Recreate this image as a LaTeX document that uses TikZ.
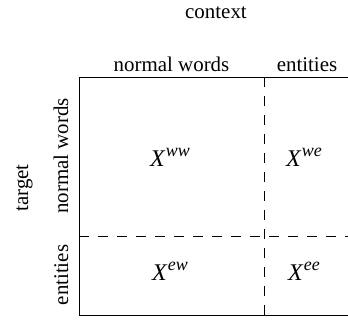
\documentclass[tikz,border=0pt]{standalone}
\usepackage{fontspec}
\setmainfont{Liberation Serif}
\newfontfamily\timesfont{Liberation Serif}
\newcommand{\cellsup}[1]{\raisebox{0.4em}{\fontsize{18}{18}\selectfont\kern1bp#1}}
\usetikzlibrary{positioning}
\begin{document}
\begin{tikzpicture}[x=1bp,y=-1bp]
\tikzstyle{lbl} = [font=\timesfont\fontsize{21}{25}\selectfont, inner sep=0pt, anchor=base]
\tikzstyle{cell} = [font=\timesfont\itshape\fontsize{24}{28}\selectfont, inner sep=0pt, anchor=base]
\tikzstyle{frame} = [draw, line width=0.9bp]
\tikzstyle{split} = [draw, line width=0.9bp, dash pattern=on 10bp off 9bp]
\useasboundingbox (0,0) rectangle (348,320);

% corners
    \coordinate (tl) at (79,77);
    \coordinate (bl) at (79,315);
    \coordinate (tr) at (350,77);
    \coordinate (br) at (350,315);
    \coordinate (vt) at (264,77);
    \coordinate (vb) at (264,315);
    \coordinate (hl) at (79,236);
    \coordinate (hr) at (350,236);
% labels
    \node [lbl] (context) at (216,18) {context};
    \node [lbl] (colw) at (171.5,71) {normal words};
    \node [lbl] (cole) at (307,71) {entities};
    \node [lbl, rotate=90] (target) at (28,188) {target};
    \node [lbl, rotate=90] (roww) at (68,156) {normal words};
    \node [lbl, rotate=90] (rowe) at (68,275) {entities};
% cells
    \node [cell] (xww) at (170,166) {X\cellsup{ww}};
    \node [cell] (xwe) at (304,166) {X\cellsup{we}};
    \node [cell] (xew) at (170,280) {X\cellsup{ew}};
    \node [cell] (xee) at (304,280) {X\cellsup{ee}};
% lines
    \path [frame] (tr) -- (tl) -- (bl) -- (br);
    \path [split] (vt) -- (vb);
    \path [split] (hl) -- (hr);
\end{tikzpicture}
\end{document}
